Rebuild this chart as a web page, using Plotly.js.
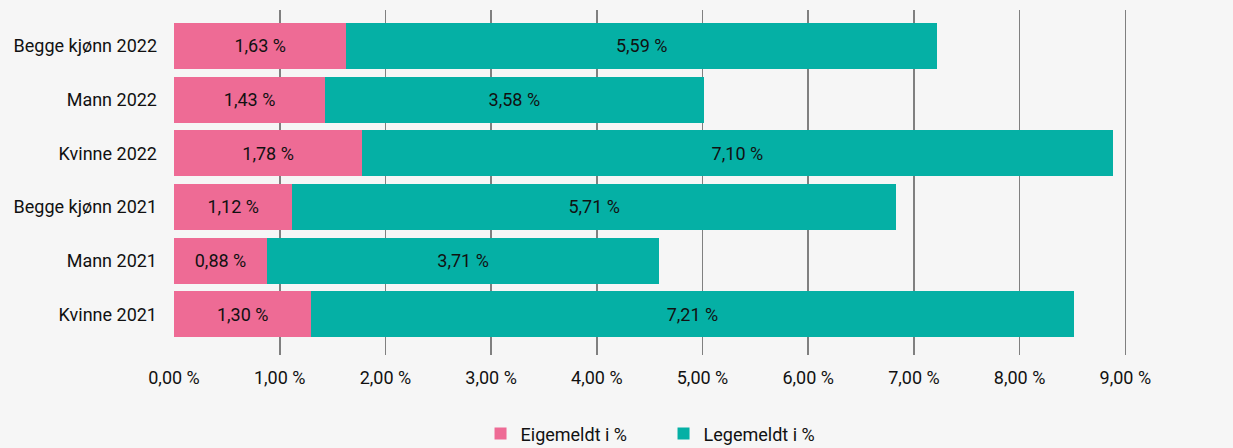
<!DOCTYPE html>
<html>
<head>
<meta charset="utf-8">
<script src="https://cdn.plot.ly/plotly-3.0.1.min.js"></script>
<style>html,body{margin:0;padding:0;background:#f6f6f6;}#chart{width:1233px;height:448px;}</style>
</head>
<body>
<div id="chart"></div>
<script>
const categories = ["Begge kjønn 2022", "Mann 2022", "Kvinne 2022", "Begge kjønn 2021", "Mann 2021", "Kvinne 2021"];
const eigemeldt = [1.63, 1.43, 1.78, 1.12, 0.88, 1.30];
const legemeldt = [5.59, 3.58, 7.10, 5.71, 3.71, 7.21];
const seriesNames = ["Eigemeldt i %", "Legemeldt i %"];
const tickValues = [0, 1, 2, 3, 4, 5, 6, 7, 8, 9, 10];

const fmt = v => v.toFixed(2).replace('.', ',') + ' %';
const tickText = tickValues.map(v => v === 10 ? '' : fmt(v));

const common = {
  type: 'bar', orientation: 'h', y: categories,
  textposition: 'inside', insidetextanchor: 'middle',
  textfont: {family: 'Roboto', size: 18, color: '#111'},
  hoverinfo: 'skip', cliponaxis: false
};
const data = [
  Object.assign({}, common, {name: seriesNames[0], x: eigemeldt, text: eigemeldt.map(fmt), marker: {color: '#ee6b95'}}),
  Object.assign({}, common, {name: seriesNames[1], x: legemeldt, text: legemeldt.map(fmt), marker: {color: '#05b0a5'}})
];
const layout = {
  width: 1233, height: 448,
  barmode: 'stack', bargap: 0.14,
  paper_bgcolor: '#f6f6f6', plot_bgcolor: '#f6f6f6',
  font: {family: 'Roboto', size: 18, color: '#111'},
  margin: {l: 174, r: 2, t: 10, b: 93, autoexpand: false},
  xaxis: {range: [0, 10], tickvals: tickValues, ticktext: tickText,
    showgrid: true, gridcolor: '#808080', gridwidth: 1.6, zeroline: false,
    showline: false, ticks: '', ticklen: 0, ticklabelstandoff: 10, tickfont: {size: 18}, automargin: false},
  yaxis: {type: 'category', categoryorder: 'array', categoryarray: categories,
    range: [5.76, -0.67], showgrid: false, zeroline: false, showline: false,
    ticks: '', ticklabelstandoff: 16, tickfont: {size: 18}, automargin: false},
  legend: {orientation: 'h', x: 0.29, xanchor: 'left', y: -0.175, yanchor: 'top',
    entrywidth: 138, entrywidthmode: 'pixels', traceorder: 'normal',
    font: {size: 18}, bgcolor: 'rgba(0,0,0,0)'},
  showlegend: true
};
Plotly.newPlot('chart', data, layout, {displayModeBar: false, staticPlot: true});
</script>
</body>
</html>
